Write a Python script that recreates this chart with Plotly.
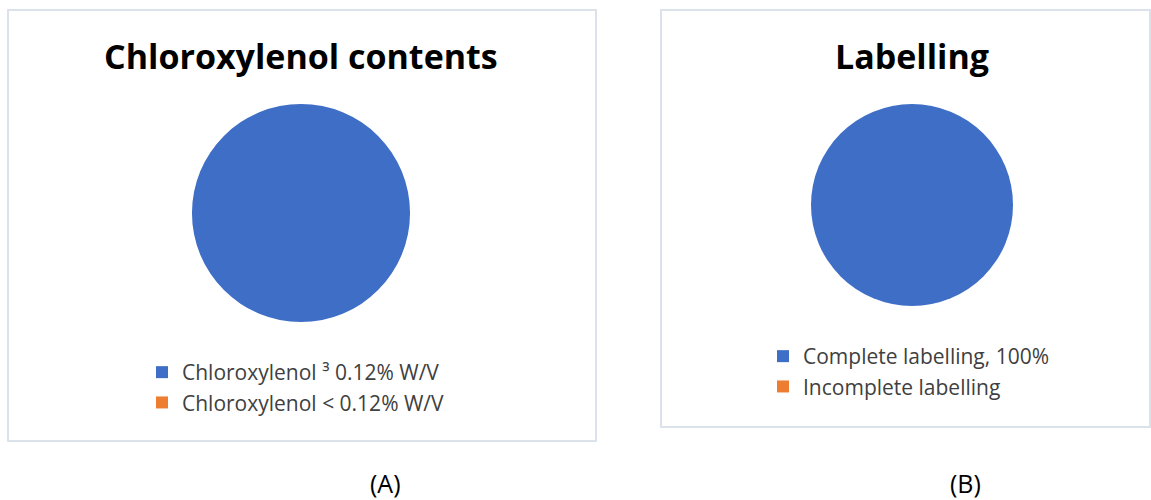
import plotly.graph_objects as go

W, H = 1151, 500

labels_a = ["Chloroxylenol ³ 0.12% W/V", "Chloroxylenol < 0.12% W/V"]
values_a = [100, 0]
labels_b = ["Complete labelling, 100%", "Incomplete labelling"]
values_b = [100, 0]
colors = ["#3F6EC6", "#ED7D31"]
titles = ["Chloroxylenol contents", "Labelling"]
panel_tags = ["(A)", "(B)"]

def px(x):
    return x / W

def py(y):
    return 1 - y / H

FONT = "Open Sans"

fig = go.Figure()
fig.add_trace(go.Pie(
    labels=labels_a, values=values_a, sort=False, direction="clockwise",
    marker=dict(colors=colors, line=dict(width=0)), textinfo="none",
    hoverinfo="label+percent",
    domain=dict(x=[px(192), px(410)], y=[py(322), py(104)]),
    legend="legend", showlegend=True,
))
fig.add_trace(go.Pie(
    labels=labels_b, values=values_b, sort=False, direction="clockwise",
    marker=dict(colors=colors, line=dict(width=0)), textinfo="none",
    hoverinfo="label+percent",
    domain=dict(x=[px(811), px(1013)], y=[py(306), py(104)]),
    legend="legend2", showlegend=True,
))

legend_font = dict(family=FONT, size=21, color="#404040")
fig.update_layout(
    width=W, height=H,
    margin=dict(l=0, r=0, t=0, b=0),
    paper_bgcolor="white", plot_bgcolor="white",
    legend=dict(x=px(142), y=py(352), xanchor="left", yanchor="top",
                font=legend_font, bgcolor="rgba(0,0,0,0)"),
    legend2=dict(x=px(763), y=py(336), xanchor="left", yanchor="top",
                 font=legend_font, bgcolor="rgba(0,0,0,0)"),
    shapes=[
        dict(type="rect", xref="paper", yref="paper",
             x0=px(8), x1=px(596), y0=py(441), y1=py(10),
             line=dict(color="#DCE2EA", width=2), layer="below"),
        dict(type="rect", xref="paper", yref="paper",
             x0=px(661), x1=px(1150), y0=py(427), y1=py(10),
             line=dict(color="#DCE2EA", width=2), layer="below"),
    ],
    annotations=[
        dict(text="<b>%s</b>" % titles[0], x=px(301), y=py(56), xref="paper", yref="paper",
             xanchor="center", yanchor="middle",
             showarrow=False, font=dict(family=FONT, size=34, color="black")),
        dict(text="<b>%s</b>" % titles[1], x=px(912), y=py(56), xref="paper", yref="paper",
             xanchor="center", yanchor="middle",
             showarrow=False, font=dict(family=FONT, size=34, color="black")),
        dict(text=panel_tags[0], x=px(385), y=py(483), xref="paper", yref="paper",
             xanchor="center", yanchor="middle",
             showarrow=False, font=dict(family=FONT, size=25, color="black")),
        dict(text=panel_tags[1], x=px(965), y=py(483), xref="paper", yref="paper",
             xanchor="center", yanchor="middle",
             showarrow=False, font=dict(family=FONT, size=25, color="black")),
    ],
)

fig.write_html("out.html")
